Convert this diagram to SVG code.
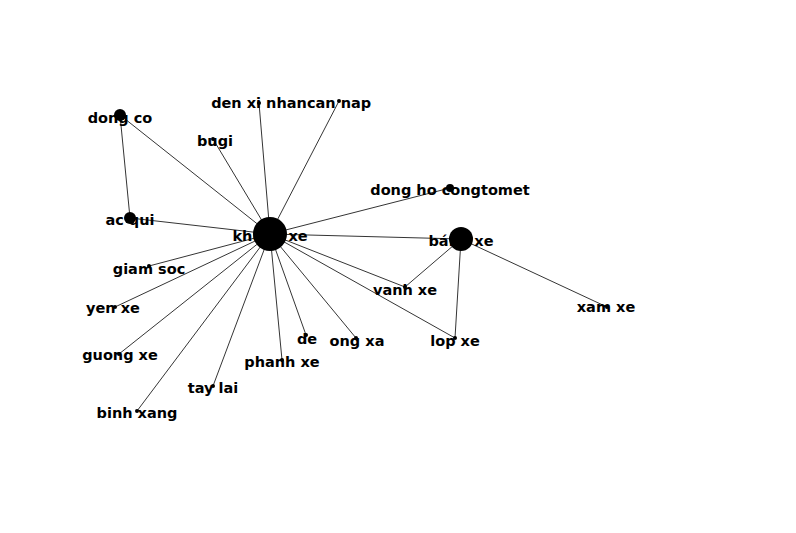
<svg xmlns="http://www.w3.org/2000/svg" width="796" height="533" viewBox="0 0 796 533">
<style>
.e{stroke:#000;stroke-width:0.8;fill:none}
.n{fill:#000}
.t{font-family:"DejaVu Sans",sans-serif;font-weight:bold;font-size:14.5px;fill:#000;text-anchor:middle;dominant-baseline:central}
</style>
<rect width="796" height="533" fill="#fff"/>
<g id="edges">
<line class="e" x1="270" y1="234" x2="120" y2="115"/>
<line class="e" x1="270" y1="234" x2="130" y2="218"/>
<line class="e" x1="270" y1="234" x2="213" y2="139"/>
<line class="e" x1="270" y1="234" x2="259" y2="103"/>
<line class="e" x1="270" y1="234" x2="339" y2="101"/>
<line class="e" x1="270" y1="234" x2="450" y2="188"/>
<line class="e" x1="270" y1="234" x2="461" y2="239"/>
<line class="e" x1="270" y1="234" x2="149" y2="266"/>
<line class="e" x1="270" y1="234" x2="115" y2="307"/>
<line class="e" x1="270" y1="234" x2="119" y2="354"/>
<line class="e" x1="270" y1="234" x2="137" y2="411"/>
<line class="e" x1="270" y1="234" x2="213" y2="386"/>
<line class="e" x1="270" y1="234" x2="282" y2="360"/>
<line class="e" x1="270" y1="234" x2="306" y2="335"/>
<line class="e" x1="270" y1="234" x2="356" y2="338"/>
<line class="e" x1="270" y1="234" x2="405" y2="287"/>
<line class="e" x1="270" y1="234" x2="455" y2="338"/>
<line class="e" x1="120" y1="115" x2="130" y2="218"/>
<line class="e" x1="461" y1="239" x2="405" y2="287"/>
<line class="e" x1="461" y1="239" x2="455" y2="338"/>
<line class="e" x1="461" y1="239" x2="607" y2="307"/>
</g>
<g id="khung-xe"><circle class="n" cx="270" cy="234" r="17"/><text class="t" x="270" y="236">khung xe</text></g>
<g id="banh-xe"><circle class="n" cx="461" cy="239" r="12"/><text class="t" x="461" y="241">bánh xe</text></g>
<g id="dong-co"><circle class="n" cx="120" cy="115" r="6"/><text class="t" x="120" y="118">dong co</text></g>
<g id="ac-qui"><circle class="n" cx="130" cy="218" r="6"/><text class="t" x="130" y="220">ac qui</text></g>
<g id="bugi"><circle class="n" cx="213" cy="139" r="2"/><text class="t" x="215" y="141">bugi</text></g>
<g id="den-xi-nhan"><circle class="n" cx="259" cy="103" r="2"/><text class="t" x="259" y="103">den xi nhan</text></g>
<g id="can-nap"><circle class="n" cx="339" cy="101" r="2"/><text class="t" x="339" y="103">can nap</text></g>
<g id="dong-ho-congtomet"><circle class="n" cx="450" cy="188" r="4"/><text class="t" x="450" y="190">dong ho congtomet</text></g>
<g id="giam-soc"><circle class="n" cx="149" cy="266" r="2"/><text class="t" x="149" y="269">giam soc</text></g>
<g id="yen-xe"><circle class="n" cx="115" cy="307" r="2"/><text class="t" x="113" y="308">yen xe</text></g>
<g id="guong-xe"><circle class="n" cx="119" cy="354" r="2"/><text class="t" x="120" y="355">guong xe</text></g>
<g id="binh-xang"><circle class="n" cx="137" cy="411" r="2"/><text class="t" x="137" y="413">binh xang</text></g>
<g id="tay-lai"><circle class="n" cx="213" cy="386" r="2"/><text class="t" x="213" y="388">tay lai</text></g>
<g id="phanh-xe"><circle class="n" cx="282" cy="360" r="2"/><text class="t" x="282" y="362">phanh xe</text></g>
<g id="de"><circle class="n" cx="306" cy="335" r="2"/><text class="t" x="307" y="339">de</text></g>
<g id="ong-xa"><circle class="n" cx="356" cy="338" r="2"/><text class="t" x="357" y="341">ong xa</text></g>
<g id="vanh-xe"><circle class="n" cx="405" cy="287" r="2"/><text class="t" x="405" y="290">vanh xe</text></g>
<g id="lop-xe"><circle class="n" cx="455" cy="338" r="2"/><text class="t" x="455" y="341">lop xe</text></g>
<g id="xam-xe"><circle class="n" cx="607" cy="307" r="2"/><text class="t" x="606" y="307">xam xe</text></g>
</svg>
